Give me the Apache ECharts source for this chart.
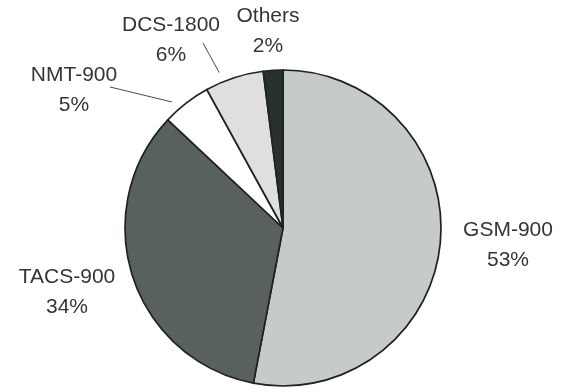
<!DOCTYPE html>
<html>
<head>
<meta charset="utf-8">
<script src="https://cdn.jsdelivr.net/npm/echarts@6/dist/echarts.min.js"></script>
<style>
  html, body { margin: 0; padding: 0; background: #ffffff; }
  #chart { width: 567px; height: 392px; }
</style>
</head>
<body>
<div id="chart"></div>
<script>
// Market share of mobile systems
const systems = ['GSM-900', 'TACS-900', 'NMT-900', 'DCS-1800', 'Others'];
const shares = [53, 34, 5, 6, 2];

// Slice fills, in the same order as the systems
const fills = ['#c6cbc9', '#59615e', '#ffffff', '#dedfde', '#29312e'];
// Leader lines are drawn only for the two narrow slices on the upper left
const withLine = [false, false, true, true, false];
// Centre of each two-line label block, in pixels
const labelSpots = [
  [508, 245],
  [67, 292],
  [74, 90],
  [171, 40],
  [268, 31]
];
// Where a leader line leaves its label, relative to the label centre
const lineTails = [null, null, [36, -3], [32, 3], null];

const pieCenter = [283, 228];
const pieRadius = 158;
const total = shares.reduce((a, b) => a + b, 0);

// Point just outside the rim of a slice, part-way across its arc
function rimPoint(index, along, gap) {
  let before = 0;
  for (let i = 0; i < index; i++) before += shares[i];
  const frac = (before + shares[index] * along) / total;
  const ang = (90 - frac * 360) * Math.PI / 180;
  const r = pieRadius + gap;
  return [pieCenter[0] + r * Math.cos(ang), pieCenter[1] - r * Math.sin(ang)];
}

const chart = echarts.init(document.getElementById('chart'), null, { renderer: 'canvas' });

chart.setOption({
  animation: false,
  backgroundColor: '#ffffff',
  series: [{
    type: 'pie',
    center: pieCenter,
    radius: [0, pieRadius],
    startAngle: 90,
    clockwise: true,
    avoidLabelOverlap: false,
    itemStyle: { borderColor: '#1e2221', borderWidth: 1.7 },
    label: {
      show: true,
      position: 'outside',
      formatter: p => p.name + '\n' + p.value + '%',
      fontFamily: 'Liberation Sans, Arial, sans-serif',
      fontSize: 21,
      lineHeight: 30,
      color: '#353535',
      align: 'center'
    },
    labelLine: {
      show: true,
      length: 12,
      length2: 0,
      smooth: false,
      lineStyle: { color: '#4a4a4a', width: 1 }
    },
    labelLayout: params => {
      const i = params.dataIndex;
      const spot = labelSpots[i];
      const out = { x: spot[0], y: spot[1], align: 'center', verticalAlign: 'middle' };
      if (lineTails[i]) {
        const tail = [spot[0] + lineTails[i][0], spot[1] + lineTails[i][1]];
        out.labelLinePoints = [rimPoint(i, 0.3, 10), tail, tail];
      }
      return out;
    },
    data: systems.map((name, i) => ({
      name: name,
      value: shares[i],
      itemStyle: { color: fills[i] },
      labelLine: { show: withLine[i] }
    }))
  }]
});
</script>
</body>
</html>
